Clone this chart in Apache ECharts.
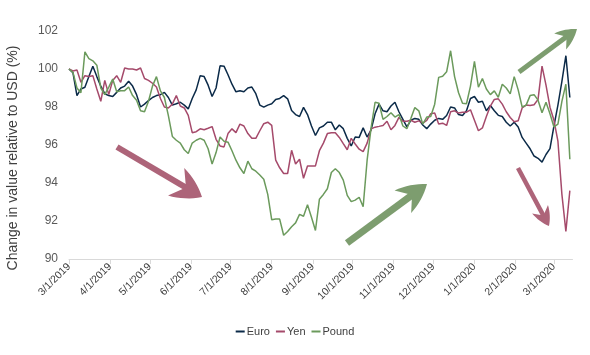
<!DOCTYPE html>
<html>
<head>
<meta charset="utf-8">
<script src="https://cdn.jsdelivr.net/npm/echarts@6/dist/echarts.min.js"></script>
<style>
html,body{margin:0;padding:0;background:#fff;}
#chart{width:590px;height:355px;}
</style>
</head>
<body>
<div id="chart"></div>
<script>
const dates = [
'2019-03-01','2019-03-04','2019-03-07','2019-03-10','2019-03-13','2019-03-16','2019-03-19','2019-03-22','2019-03-25','2019-03-28','2019-03-31',
'2019-04-03','2019-04-06','2019-04-09','2019-04-12','2019-04-15','2019-04-18','2019-04-21','2019-04-24','2019-04-27','2019-04-30',
'2019-05-03','2019-05-06','2019-05-09','2019-05-12','2019-05-15','2019-05-18','2019-05-21','2019-05-24','2019-05-27','2019-05-30',
'2019-06-02','2019-06-05','2019-06-08','2019-06-11','2019-06-14','2019-06-17','2019-06-20','2019-06-23','2019-06-26','2019-06-29',
'2019-07-02','2019-07-05','2019-07-08','2019-07-11','2019-07-14','2019-07-17','2019-07-20','2019-07-23','2019-07-26','2019-07-29',
'2019-08-01','2019-08-04','2019-08-07','2019-08-10','2019-08-13','2019-08-16','2019-08-19','2019-08-22','2019-08-25','2019-08-28','2019-08-31',
'2019-09-03','2019-09-06','2019-09-09','2019-09-12','2019-09-15','2019-09-18','2019-09-21','2019-09-24','2019-09-27','2019-09-30',
'2019-10-03','2019-10-06','2019-10-09','2019-10-12','2019-10-15','2019-10-18','2019-10-21','2019-10-24','2019-10-27','2019-10-30',
'2019-11-02','2019-11-05','2019-11-08','2019-11-11','2019-11-14','2019-11-17','2019-11-20','2019-11-23','2019-11-26','2019-11-29',
'2019-12-02','2019-12-05','2019-12-08','2019-12-11','2019-12-14','2019-12-17','2019-12-20','2019-12-23','2019-12-26','2019-12-29',
'2020-01-01','2020-01-04','2020-01-07','2020-01-10','2020-01-13','2020-01-16','2020-01-19','2020-01-22','2020-01-25','2020-01-28','2020-01-31',
'2020-02-03','2020-02-06','2020-02-09','2020-02-12','2020-02-15','2020-02-18','2020-02-21','2020-02-24','2020-02-27',
'2020-03-01','2020-03-04','2020-03-07','2020-03-10','2020-03-13'
];

const euro = [
100.0,99.8,98.6,98.95,99.04,99.6,100.15,99.6,99.1,98.7,98.6,
98.55,98.77,99.0,99.1,99.35,99.1,98.65,98.0,98.15,98.34,
98.5,98.6,98.65,98.77,98.5,98.1,98.17,98.25,98.1,97.9,
98.45,98.9,99.65,99.6,99.15,98.55,99.0,100.17,100.15,99.7,
99.2,98.8,98.85,98.8,99.0,99.05,98.7,98.1,97.99,98.1,
98.17,98.4,98.45,98.6,98.43,97.82,97.6,97.5,97.98,97.6,97.0,
96.5,96.9,97.0,97.2,97.2,96.8,97.05,96.86,96.35,95.95,
96.42,96.4,96.9,96.42,96.8,97.64,98.15,97.8,97.75,98.05,
98.25,97.75,97.35,96.95,97.3,97.4,97.35,97.05,96.86,97.1,
97.3,97.4,97.35,97.55,98.0,97.95,97.6,97.55,97.8,98.45,
98.55,98.25,98.3,97.8,98.08,97.8,97.56,97.5,97.2,97.0,97.2,
96.95,96.4,96.1,95.8,95.42,95.3,95.1,95.5,95.81,
97.0,98.1,99.35,100.7,98.5
];

const yen = [
100.0,99.9,99.95,99.3,99.65,99.6,99.65,98.95,98.3,99.4,98.65,
99.4,99.65,99.3,100.05,100.0,100.0,99.95,100.05,99.5,99.4,
99.25,99.05,98.45,98.0,97.95,98.15,98.6,98.05,97.95,97.56,
96.65,96.7,96.85,96.8,96.88,96.97,96.3,95.95,95.9,96.6,
96.85,96.65,97.1,97.0,96.6,96.35,96.35,96.75,97.12,97.2,
97.03,95.2,94.8,94.5,94.5,95.72,95.0,95.25,94.25,94.9,94.9,
94.9,95.7,96.1,96.6,96.65,96.65,96.4,96.07,95.75,96.35,
96.05,95.78,95.65,96.1,96.85,96.94,96.98,97.03,97.25,96.8,
97.03,97.45,97.25,97.25,97.3,97.2,97.27,97.15,97.29,97.65,
97.68,97.1,97.15,97.03,97.75,97.8,97.68,97.72,97.73,97.85,
97.3,96.75,96.9,97.5,98.05,98.4,98.43,98.15,97.75,97.45,97.22,
97.28,97.95,98.1,98.08,98.12,98.4,100.15,99.15,97.99,
97.3,96.2,93.4,91.45,93.6
];

const pound = [
100.0,99.82,99.0,98.75,100.9,100.55,100.43,100.2,99.0,98.65,99.05,
99.47,98.8,98.85,98.86,99.05,98.6,98.35,97.8,97.75,98.3,
99.1,99.6,98.85,98.5,97.55,96.45,96.25,96.1,95.75,95.55,
96.1,96.25,96.35,96.25,95.8,95.0,95.6,96.42,96.2,96.15,
95.7,95.2,94.8,94.5,95.15,94.75,94.62,94.42,94.2,93.4,
92.06,92.1,92.1,91.25,91.45,91.7,91.9,92.35,92.25,92.85,92.2,
91.5,93.15,93.4,93.7,94.55,94.75,94.55,94.15,93.35,93.02,
93.1,93.25,92.75,95.2,96.9,98.25,98.2,97.35,97.5,97.7,
97.47,97.6,97.0,96.86,97.4,97.97,97.8,97.1,97.47,97.5,
98.15,99.56,99.62,99.85,100.96,99.6,98.75,98.2,98.17,99.1,
100.4,99.04,99.5,98.95,98.65,98.85,98.51,99.2,99.0,98.69,99.6,
98.9,98.0,98.1,98.6,98.65,98.36,97.7,98.25,97.64,
96.95,97.1,98.3,99.2,95.25
];

const seriesNames = ['Euro', 'Yen', 'Pound'];
const seriesColors = ['#0b2a48', '#a54a6b', '#6b9a5c'];
const monthTicks = [
'2019-03-01','2019-04-01','2019-05-01','2019-06-01','2019-07-01','2019-08-01','2019-09-01',
'2019-10-01','2019-11-01','2019-12-01','2020-01-01','2020-02-01','2020-03-01'
];
const xStart = '2019-03-01', xEnd = '2020-03-15';
const yTitle = 'Change in value relative to USD (%)';

const FONT = "'Liberation Sans', Arial, sans-serif";

const chart = echarts.init(document.getElementById('chart'), null, {renderer: 'canvas'});
const toT = s => echarts.number.parseDate(s).getTime();
const tickTimes = monthTicks.map(toT);

function pairs(vals) { return dates.map((d, i) => [toT(d), vals[i]]); }

// annotation arrows (decoration, pixel space)
function quad(a, c, b, n) {
  const out = [];
  for (let k = 1; k <= n; k++) {
    const t = k / n, s = 1 - t;
    out.push([s*s*a[0] + 2*s*t*c[0] + t*t*b[0], s*s*a[1] + 2*s*t*c[1] + t*t*b[1]]);
  }
  return out;
}
function arrow(x1, y1, x2, y2, w, hl, hw, color) {
  const dx = x2 - x1, dy = y2 - y1, len = Math.sqrt(dx*dx + dy*dy);
  const ux = dx/len, uy = dy/len, nx = -uy, ny = ux;
  const bx = x2 - ux*hl, by = y2 - uy*hl;
  const kx = x2 - ux*hl*0.62, ky = y2 - uy*hl*0.62;
  const p1 = [bx + nx*hw, by + ny*hw], p2 = [bx - nx*hw, by - ny*hw];
  const tip = [x2, y2];
  const ctrl = (a, b, s) => [(a[0]+b[0])/2 + s*(b[1]-a[1]), (a[1]+b[1])/2 - s*(b[0]-a[0])];
  const pts = [tip]
    .concat(quad(tip, ctrl(tip, p1, 0.12), p1, 8))
    .concat([[kx, ky]])
    .concat(quad(p2, ctrl(p2, tip, 0.12), tip, 8).slice(0, -1));
  pts.splice(pts.length - 7, 0, p2);
  return {
    type: 'group', z: 100,
    children: [
      { type: 'line', shape: {x1: x1, y1: y1, x2: kx + ux*2, y2: ky + uy*2},
        style: {stroke: color, lineWidth: w, lineCap: 'butt'} },
      { type: 'polygon', shape: {points: pts}, style: {fill: color} }
    ]
  };
}
const PINK = '#ad6479', GREEN = '#7d9d6f';

const option = {
  animation: false,
  backgroundColor: '#ffffff',
  textStyle: {fontFamily: FONT},
  grid: {left: 69, right: 17.5, top: 31, bottom: 96, outerBoundsMode: 'none', containLabel: false},
  legend: {
    data: seriesNames,
    top: 321, left: 'center',
    icon: 'rect', itemWidth: 9, itemHeight: 2, itemGap: 6,
    textStyle: {fontFamily: FONT, fontSize: 11, color: '#404040', padding: [0, 0, 0, -3]}
  },
  xAxis: {
    type: 'value',
    min: toT(xStart), max: toT(xEnd),
    axisLine: {show: true, lineStyle: {color: '#d9d9d9', width: 1}},
    axisTick: {show: true, length: 5, lineStyle: {color: '#d9d9d9'}, customValues: tickTimes},
    splitLine: {show: false},
    axisLabel: {
      customValues: tickTimes,
      rotate: 45, margin: 6,
      fontFamily: FONT, fontSize: 10.5, color: '#404040',
      formatter: function (v) { const d = new Date(v); return (d.getMonth()+1) + '/' + d.getDate() + '/' + d.getFullYear(); }
    }
  },
  yAxis: {
    type: 'value', min: 90, max: 102, interval: 2,
    axisLine: {show: false}, axisTick: {show: false}, splitLine: {show: false},
    axisLabel: {fontFamily: FONT, fontSize: 12, color: '#595959', margin: 11},
    name: yTitle, nameLocation: 'middle', nameGap: 49, nameRotate: 90,
    nameTextStyle: {fontFamily: FONT, fontSize: 14, color: '#404040', padding: [0, 26, 0, 0]}
  },
  series: [euro, yen, pound].map((vals, k) => ({
    name: seriesNames[k], type: 'line', data: pairs(vals),
    showSymbol: false, symbol: 'none',
    lineStyle: {color: seriesColors[k], width: 1.5},
    itemStyle: {color: seriesColors[k]}
  })),
  graphic: [
    arrow(117, 147, 202, 197, 6, 30, 16, PINK),
    arrow(347, 243, 427, 184, 7, 30, 14, GREEN),
    arrow(519, 72, 577, 29, 5, 21, 10, GREEN),
    arrow(518, 168, 549, 226, 4.5, 19, 9, PINK)
  ]
};
chart.setOption(option);
</script>
</body>
</html>
